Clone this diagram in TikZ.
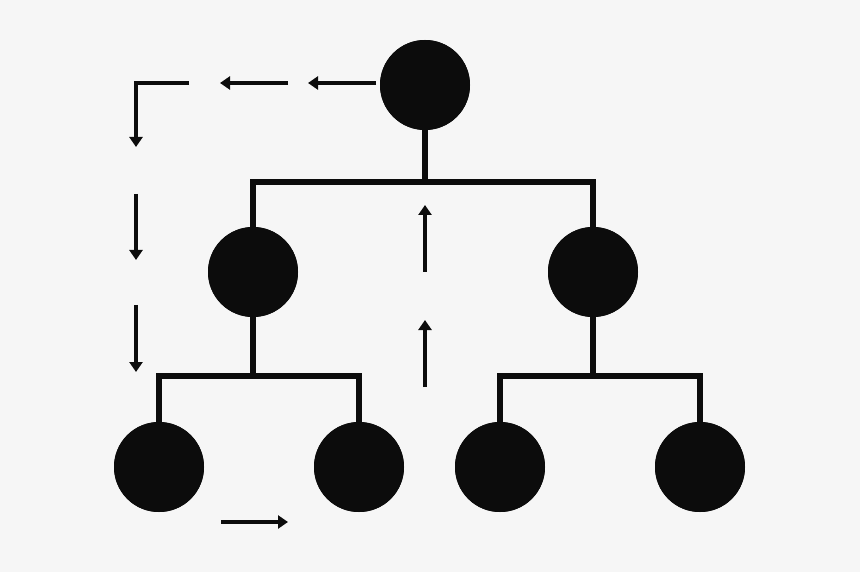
\documentclass[tikz,border=0pt]{standalone}
\usetikzlibrary{arrows.meta}
\definecolor{bg}{HTML}{F6F6F6}
\definecolor{ink}{HTML}{0C0C0C}
\begin{document}
\begin{tikzpicture}[x=1pt,y=-1pt,
  dot/.style={circle,fill=ink,minimum size=90pt,inner sep=0pt},
  tree/.style={draw=ink,line width=6pt},
  flow/.style={draw=ink,line width=4pt,-{Triangle[length=10pt,width=13pt]}}]
\fill[bg] (0,0) rectangle (860,572);
\useasboundingbox (0,0) rectangle (860,572);
\node[dot] (r) at (425,85) {};
\node[dot] (a) at (253,272) {};
\node[dot] (b) at (593,272) {};
\node[dot] (a1) at (159,467) {};
\node[dot] (a2) at (359,467) {};
\node[dot] (b1) at (500,467) {};
\node[dot] (b2) at (700,467) {};
\draw[tree] (r.center) -- (425,182);
\draw[tree] (a.center) -- (253,182) -- (593,182) -- (b.center);
\draw[tree] (a.center) -- (253,376);
\draw[tree] (a1.center) -- (159,376) -- (359,376) -- (a2.center);
\draw[tree] (b.center) -- (593,376);
\draw[tree] (b1.center) -- (500,376) -- (700,376) -- (b2.center);
\node[dot] at (r) {};\node[dot] at (a) {};\node[dot] at (b) {};
\node[dot] at (a1) {};\node[dot] at (a2) {};\node[dot] at (b1) {};\node[dot] at (b2) {};
\coordinate (t1s) at (376,83); \coordinate (t1e) at (308,83);
\coordinate (t2s) at (288,83); \coordinate (t2e) at (220,83);
\coordinate (cs) at (189,83); \coordinate (cc) at (136,83); \coordinate (ce) at (136,147);
\coordinate (d1s) at (136,194); \coordinate (d1e) at (136,260);
\coordinate (d2s) at (136,305); \coordinate (d2e) at (136,372);
\coordinate (u1s) at (425,272); \coordinate (u1e) at (425,205);
\coordinate (u2s) at (425,387); \coordinate (u2e) at (425,320);
\coordinate (hs) at (221,522); \coordinate (he) at (288,522);
\draw[flow] (t1s) -- (t1e);
\draw[flow] (t2s) -- (t2e);
\draw[flow,line join=miter] (cs) -- (cc) -- (ce);
\draw[flow] (d1s) -- (d1e);
\draw[flow] (d2s) -- (d2e);
\draw[flow] (u1s) -- (u1e);
\draw[flow] (u2s) -- (u2e);
\draw[flow] (hs) -- (he);
\end{tikzpicture}
\end{document}
